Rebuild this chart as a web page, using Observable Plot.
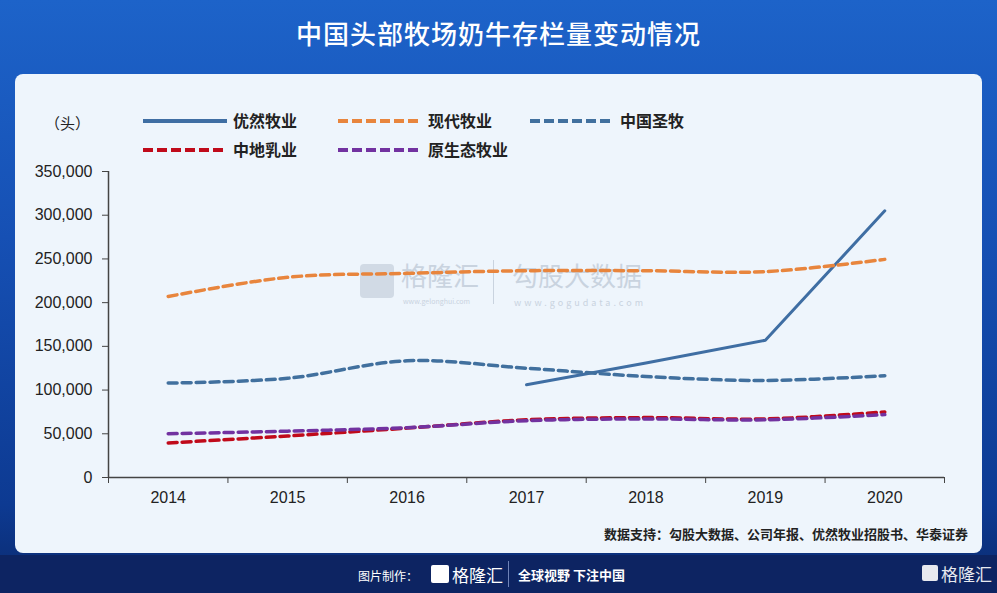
<!DOCTYPE html>
<html><head><meta charset="utf-8">
<script src="https://cdn.jsdelivr.net/npm/d3@7"></script>
<script src="https://cdn.jsdelivr.net/npm/@observablehq/plot@0.6"></script>
<style>
html,body{margin:0;padding:0;}
body{width:997px;height:593px;overflow:hidden;position:relative;font-family:"Liberation Sans","Noto Sans CJK SC",sans-serif;
background:linear-gradient(180deg,#1d63c9 0%,#1650b4 40%,#0d3a92 85%,#0b2a6e 100%);}
#title{position:absolute;left:0;top:14px;width:997px;text-align:center;color:#fff;font-family:"Noto Sans CJK SC",sans-serif;font-size:26px;font-weight:500;letter-spacing:1px;}
#panel{position:absolute;left:15px;top:74px;width:967px;height:479px;background:#eef5fc;border-radius:8px;}
#footer{position:absolute;left:0;top:555px;width:997px;height:38px;background:#0d2462;}
.lg{position:absolute;font-family:"Noto Sans CJK SC",sans-serif;font-size:16px;font-weight:700;color:#222;}
.sw{position:absolute;height:0;}
#unit{position:absolute;left:30px;top:38px;font-family:"Noto Sans CJK SC",sans-serif;font-size:15px;color:#222;}
#chart{position:absolute;left:0;top:86px;}
#caption{position:absolute;right:14px;top:450px;font-family:"Noto Sans CJK SC",sans-serif;font-size:13px;font-weight:700;color:#222;}
.wm{position:absolute;font-family:"Noto Sans CJK SC",sans-serif;color:#c9d3df;line-height:1;white-space:nowrap;}
.ft{position:absolute;font-family:"Noto Sans CJK SC",sans-serif;color:#fff;}
</style></head>
<body>
<div id="title">中国头部牧场奶牛存栏量变动情况</div>
<div id="panel">
  <div id="unit">（头）</div>
  <div id="legend"></div>
  <div class="wm" style="left:345px;top:190px;width:34px;height:34px;border-radius:4px;background:#c9d3df;opacity:0.8"></div>
  <div class="wm" style="left:386px;top:188px;font-size:26px;">格隆汇</div>
  <div class="wm" style="left:388px;top:224px;font-size:7px;">www.gelonghui.com</div>
  <div class="wm" style="left:478px;top:186px;width:1px;height:44px;background:#c9d3df"></div>
  <div class="wm" style="left:497px;top:188px;font-size:26px;">勾股大数据</div>
  <div class="wm" style="left:499px;top:224px;font-size:9px;letter-spacing:3px;">www.gogudata.com</div>
  <div id="chart"></div>
  <div id="caption">数据支持：勾股大数据、公司年报、优然牧业招股书、华泰证券</div>
</div>
<div id="footer">
  <div class="ft" style="left:358px;top:12px;font-size:12px;">图片制作：</div>
  <div class="ft" style="left:431px;top:10px;width:18px;height:18px;background:#fff;border-radius:2px;"></div>
  <div class="ft" style="left:452px;top:7px;font-size:17px;">格隆汇</div>
  <div class="ft" style="left:508px;top:6px;width:1px;height:26px;background:#6f83b8;"></div>
  <div class="ft" style="left:518px;top:10px;font-size:13px;font-weight:700;">全球视野 下注中国</div>
  <div class="ft" style="left:922px;top:10px;width:16px;height:16px;background:#fff;border-radius:2px;opacity:0.9"></div>
  <div class="ft" style="left:941px;top:6px;font-size:17px;opacity:0.9">格隆汇</div>
</div>
<script>
const years = [2014, 2015, 2016, 2017, 2018, 2019, 2020];
const youran   = [null, null, null, 106000, 131000, 157000, 305000];
const xiandai  = [207000, 229000, 233500, 236500, 236500, 235500, 249500];
const shengmu  = [108000, 113500, 133500, 125000, 115500, 111000, 116500];
const zhongdi  = [39500, 47500, 56500, 66000, 68500, 67000, 75000];
const yuanshengtai = [50000, 53000, 57000, 65000, 67000, 66000, 72000];
const yTicks = [0, 50000, 100000, 150000, 200000, 250000, 300000, 350000];

const seriesNames = ["优然牧业", "现代牧业", "中国圣牧", "中地乳业", "原生态牧业"];
const seriesValues = [youran, xiandai, shengmu, zhongdi, yuanshengtai];
const colors = ["#3f6ea3", "#e8853d", "#41709e", "#c00a1a", "#7232a0"];
const dashed = [false, true, true, true, true];

const rows = [];
seriesNames.forEach((s, i) => years.forEach((y, j) => {
  if (seriesValues[i][j] != null) rows.push({series: s, year: y, value: seriesValues[i][j]});
}));

// legend
const legendPos = [[128, 47], [323, 47], [515, 47], [128, 76], [323, 76]];
const leg = document.getElementById("legend");
seriesNames.forEach((s, i) => {
  const [lx, ly] = legendPos[i];
  const sw = document.createElement("div");
  sw.className = "sw";
  sw.style.left = lx + "px"; sw.style.top = (ly - 2) + "px"; sw.style.width = "84px";
  sw.style.height = "4px";
  sw.style.background = dashed[i]
    ? `repeating-linear-gradient(90deg, ${colors[i]} 0 10px, transparent 10px 14px)`
    : colors[i];
  leg.appendChild(sw);
  const t = document.createElement("div");
  t.className = "lg";
  t.textContent = s;
  t.style.left = (lx + 90) + "px"; t.style.top = (ly - 13) + "px";
  leg.appendChild(t);
});

const boundaries = d3.range(2013.5, 2021, 1);
const marks = [
  Plot.axisY({ticks: yTicks, tickFormat: d3.format(","), tickSize: 6, tickPadding: 10, fontSize: 16, color: "#222", stroke: "#444", label: null}),
  Plot.axisX({ticks: boundaries, tickSize: 6, tickFormat: () => "", stroke: "#444", label: null}),
  Plot.axisX({ticks: years, tickSize: 0, tickPadding: 14, tickFormat: d => String(d), fontSize: 16, color: "#222", label: null}),
  Plot.ruleY([0], {stroke: "#444", strokeWidth: 1.5}),
  Plot.ruleX([2013.5], {stroke: "#444", strokeWidth: 1.5}),
];
seriesNames.forEach((s, i) => {
  marks.push(Plot.line(rows.filter(d => d.series === s), {
    x: "year", y: "value", stroke: colors[i],
    strokeWidth: dashed[i] ? 3.5 : 3,
    strokeDasharray: dashed[i] ? "9,5" : null,
    curve: dashed[i] ? "catmull-rom" : "linear"
  }));
});

const chart = Plot.plot({
  width: 967, height: 360,
  marginLeft: 93, marginRight: 38, marginTop: 11, marginBottom: 43,
  style: {background: "transparent", fontFamily: "Liberation Sans, Arial, sans-serif"},
  x: {type: "linear", domain: [2013.5, 2020.5]},
  y: {domain: [0, 350000]},
  marks
});
document.getElementById("chart").appendChild(chart);
</script>
</body></html>
